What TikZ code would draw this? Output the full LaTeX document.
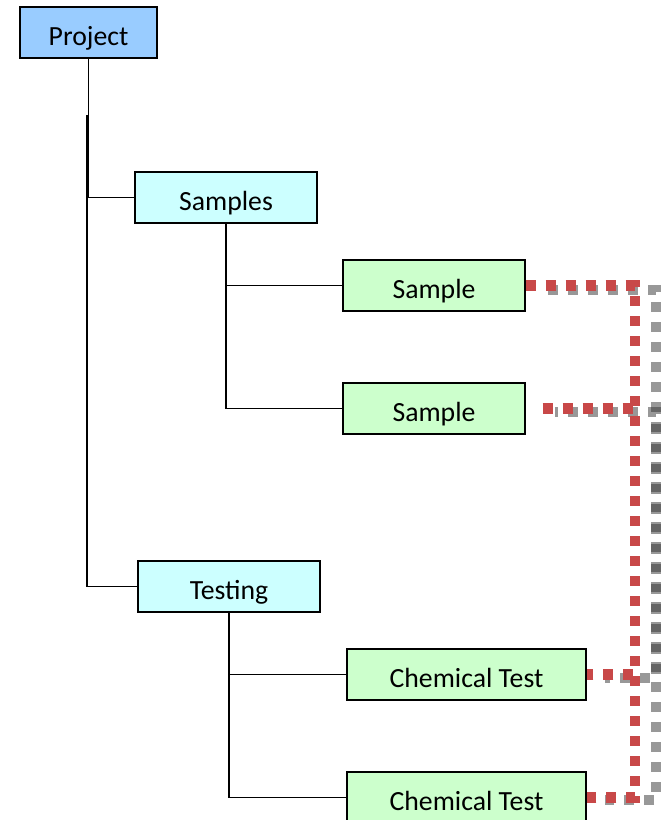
\documentclass[tikz,border=0pt]{standalone}
\usepackage{fontspec}
\setmainfont{Carlito}
\definecolor{projfill}{HTML}{99CCFF}
\definecolor{grpfill}{HTML}{CCFFFF}
\definecolor{leaffill}{HTML}{CCFFCC}
\definecolor{linkred}{HTML}{C84848}
\definecolor{linkgray}{HTML}{333333}
\begin{document}
\begin{tikzpicture}[x=0.75pt,y=-0.75pt,
  box/.style={draw=black,line width=1.1pt,inner sep=0pt,minimum height=38.25pt,
    text height=20pt,text depth=0pt,
    font=\fontsize{20.8}{24}\selectfont},
  proj/.style={box,fill=projfill,minimum width=102.75pt},
  grp/.style={box,fill=grpfill,minimum width=136.5pt},
  leaf/.style={box,fill=leaffill,minimum width=136.5pt},
  wide/.style={box,fill=leaffill,minimum width=179.25pt},
  conn/.style={draw=black,line width=1.1pt},
  reddash/.style={draw=linkred,line width=8pt,dash pattern=on 7.5pt off 7.5pt},
  graydash/.style={draw=linkgray,draw opacity=0.5,line width=7.5pt,dash pattern=on 7.5pt off 7.5pt}]
\useasboundingbox (0,0) rectangle (669,820);
\clip (0,0) rectangle (669,820);
\fill[white] (0,0) rectangle (669,820);

\node[proj] (p) at (88.5,32.5) {Project};
\node[grp] (g1) at (226,197.5) {Samples};
\node[leaf] (s1) at (434,285.5) {Sample};
\node[leaf] (s2) at (434,408.5) {Sample};
\node[grp] (g2) at (229,586.5) {Testing};
\node[wide] (c1) at (466.5,674.5) {Chemical Test};
\node[wide] (c2) at (466.5,797.5) {Chemical Test};

\coordinate (pj) at (87,115);
\coordinate (gx) at (656,0);
\coordinate (rx) at (635,0);
\coordinate (s1g) at (548,290);
\coordinate (s2g) at (555,412);
\coordinate (c1g) at (605,678);
\coordinate (c2g) at (605,800);
\coordinate (s2r) at (535,408.5);

% tree connectors
\draw[conn] (p.south) |- (g1.west);
\draw[conn] (pj) |- (g2.west);
\draw[conn] (g1.south) |- (s1.west);
\draw[conn] (g1.south) |- (s2.west);
\draw[conn] (g2.south) |- (c1.west);
\draw[conn] (g2.south) |- (c2.west);

% gray links
\draw[graydash] (s1g) -- (s1g -| gx) |- (c2g);
\draw[graydash,dash phase=5.25pt] (s2g) -- (s2g -| gx) |- (c1g);

% red links
\draw[reddash] (s1.east) -- (s1.east -| rx) |- (c2.east);
\draw[reddash,dash phase=9.2pt] (s2r) -- (s2r -| rx) |- (c1.east);
\end{tikzpicture}
\end{document}
